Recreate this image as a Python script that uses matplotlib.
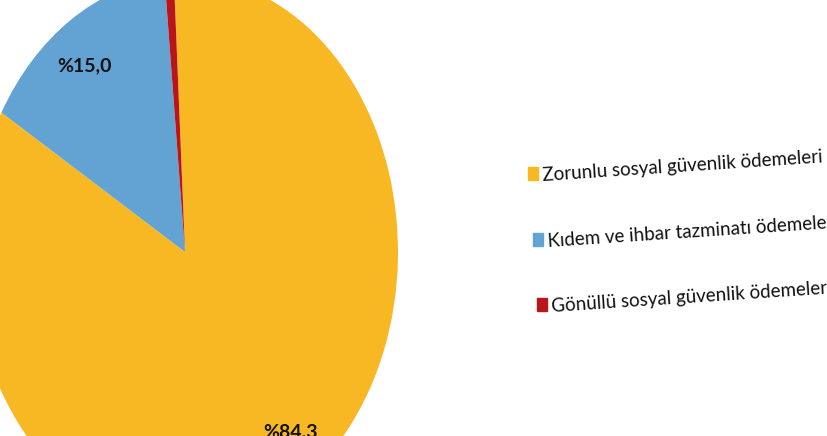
import matplotlib
matplotlib.use("Agg")
import matplotlib.pyplot as plt
from matplotlib.patches import Rectangle

# Shares of social security / severance payments (%)
categories = [
    "Zorunlu sosyal güvenlik ödemeleri",
    "Kıdem ve ihbar tazminatı ödemeleri",
    "Gönüllü sosyal güvenlik ödemeleri",
]
shares = [84.3, 15.0, 0.7]
colors = ["#F8B823", "#62A3D3", "#B8161B"]

W, H, DPI = 827, 436, 100
fig = plt.figure(figsize=(W / DPI, H / DPI), dpi=DPI)
ax = fig.add_axes([0, 0, 1, 1])

font = ["Lato", "DejaVu Sans"]

wedges, texts, autotexts = ax.pie(
    shares,
    colors=colors,
    startangle=93,
    counterclock=False,
    autopct=lambda p: "%" + f"{p:.1f}".replace(".", ","),
    pctdistance=0.8,
    wedgeprops=dict(linewidth=0),
    textprops=dict(fontsize=14, fontweight="bold", color="#111111",
                   family=font),
)

# Stretched pie: horizontal radius 213 px, vertical radius 275 px, centre at (185, 252)
cx, cy, rx, ry = 185, 252, 213, 275
ax.set_aspect("auto")
ax.set_xlim((0 - cx) / rx, (W - cx) / rx)
ax.set_ylim((cy - H) / ry, (cy - 0) / ry)
ax.axis("off")

# tiny slice carries no visible label
autotexts[2].set_visible(False)
autotexts[0].set_position(((291 - cx) / rx, (cy - 432) / ry))
autotexts[1].set_position(((84 - cx) / rx, (cy - 66) / ry))

# Tilted legend drawn in pixel space
rows = [(543, 181), (548, 247), (552, 312)]
for (x, y), label, col in zip(rows, categories, colors):
    fig.patches.append(Rectangle((x - 15, H - y + 1), 10, 13, color=col,
                                 transform=None, figure=fig))
    fig.text(x / W, 1 - y / H, label, fontsize=13.5, rotation=3.8,
             rotation_mode="anchor", ha="left", va="baseline",
             color="#111111", family=font)

fig.savefig("out.png", dpi=DPI)
